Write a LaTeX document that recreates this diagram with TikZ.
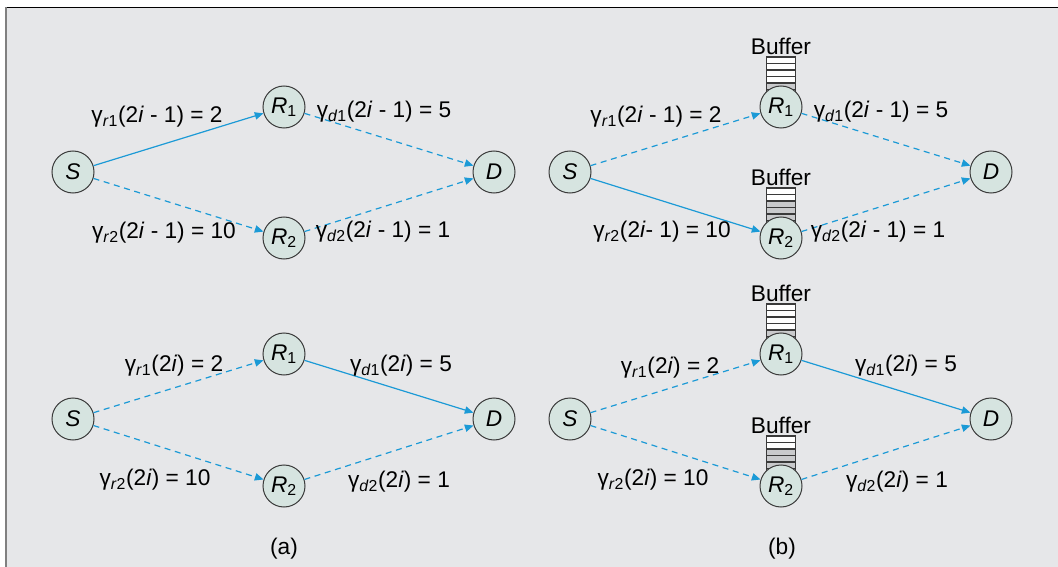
\documentclass[tikz,border=0pt]{standalone}
\usepackage{fontspec}
\setmainfont{Liberation Sans}
\usetikzlibrary{arrows.meta,positioning}

\definecolor{linkblue}{HTML}{1B9AD6}
\definecolor{nodefill}{HTML}{D6E4E0}
\definecolor{edgegray}{HTML}{3A3A3A}
\definecolor{panelgray}{HTML}{E6E7E9}
\definecolor{stripegray}{HTML}{C9CACC}

% channel gain label
\newcommand{\gain}[2]{γ\textsubscript{\textit{#1}#2}}
% queue of six slots, #3 free (white) slots on top
\newcommand{\drawqueue}[4]{%
  \foreach \k in {1,...,6}{%
    \ifnum\k>#3\relax\def\stripe{stripegray}\else\def\stripe{white}\fi
    \filldraw[fill=\stripe, draw=edgegray, line width=0.8pt]
      (#1-14.5,#2-56.5+6.5*\k) rectangle ++(29,6.5);
  }%
  \node[anchor=south, inner sep=1pt] (#4) at (#1,#2-51) {Buffer};
}

\begin{document}
\begin{tikzpicture}[
    x=0.75pt, y=-0.75pt,
    every node/.style={font=\fontsize{17}{20}\selectfont},
    station/.style={circle, draw=edgegray, fill=nodefill, line width=0.75pt,
        minimum size=31.5pt, inner sep=0pt},
    link/.style={draw=linkblue, line width=0.9pt, -{Triangle[length=6.5pt,width=5.5pt]}},
    idle/.style={link, dash pattern=on 4.5pt off 3.5pt},
    weight/.style={inner sep=0pt}
]

\useasboundingbox (0,0) rectangle (1058,567);
\fill[white] (0,0) rectangle (1058,567);
\fill[panelgray] (6,7.5) rectangle (1058,567);
\draw[black, line width=0.8pt] (6,7.5) -- (1058,7.5);
\draw[gray, line width=1pt] (6,7.5) -- (6,567);

% buffers in (b)
\drawqueue{781}{107}{4}{bufa}
\drawqueue{781}{238}{2}{bufb}
\drawqueue{781}{354}{4}{bufc}
\drawqueue{781}{486}{2}{bufd}

% (a) slot 2i-1
\node[station] (sa) at (73,172) {\textit{S}};
\node[station] (ra1) at (284,107) {\textit{R}\textsubscript{1}};
\node[station] (ra2) at (284,238) {\textit{R}\textsubscript{2}};
\node[station] (da) at (494,172) {\textit{D}};
\draw[link] (sa) -- (ra1);
\draw[idle] (sa) -- (ra2);
\draw[idle] (ra1) -- (da);
\draw[idle] (ra2) -- (da);
\node[weight] (wa1) at (157,117) {\gain{r}{1}(2\textit{i} - 1) = 2};
\node[weight] (wa2) at (164,233) {\gain{r}{2}(2\textit{i} - 1) = 10};
\node[weight] (wa3) at (384,112) {\gain{d}{1}(2\textit{i} - 1) = 5};
\node[weight] (wa4) at (383,232) {\gain{d}{2}(2\textit{i} - 1) = 1};

% (a) slot 2i
\node[station] (sb) at (73,419) {\textit{S}};
\node[station] (rb1) at (284,354) {\textit{R}\textsubscript{1}};
\node[station] (rb2) at (284,486) {\textit{R}\textsubscript{2}};
\node[station] (db) at (494,419) {\textit{D}};
\draw[idle] (sb) -- (rb1);
\draw[idle] (sb) -- (rb2);
\draw[link] (rb1) -- (db);
\draw[idle] (rb2) -- (db);
\node[weight] (wb1) at (174,366) {\gain{r}{1}(2\textit{i}) = 2};
\node[weight] (wb2) at (155,480) {\gain{r}{2}(2\textit{i}) = 10};
\node[weight] (wb3) at (401,366) {\gain{d}{1}(2\textit{i}) = 5};
\node[weight] (wb4) at (399,482) {\gain{d}{2}(2\textit{i}) = 1};

% (b) slot 2i-1
\node[station] (sc) at (570,172) {\textit{S}};
\node[station] (rc1) at (781,107) {\textit{R}\textsubscript{1}};
\node[station] (rc2) at (781,238) {\textit{R}\textsubscript{2}};
\node[station] (dc) at (991,172) {\textit{D}};
\draw[idle] (sc) -- (rc1);
\draw[link] (sc) -- (rc2);
\draw[idle] (rc1) -- (dc);
\draw[idle] (rc2) -- (dc);
\node[weight] (wc1) at (656,117) {\gain{r}{1}(2\textit{i} - 1) = 2};
\node[weight] (wc2) at (662,232) {\gain{r}{2}(2\textit{i}- 1) = 10};
\node[weight] (wc3) at (881,112) {\gain{d}{1}(2\textit{i} - 1) = 5};
\node[weight] (wc4) at (878,232) {\gain{d}{2}(2\textit{i} - 1) = 1};

% (b) slot 2i
\node[station] (sd) at (570,419) {\textit{S}};
\node[station] (rd1) at (781,354) {\textit{R}\textsubscript{1}};
\node[station] (rd2) at (781,486) {\textit{R}\textsubscript{2}};
\node[station] (dd) at (991,419) {\textit{D}};
\draw[idle] (sd) -- (rd1);
\draw[idle] (sd) -- (rd2);
\draw[link] (rd1) -- (dd);
\draw[idle] (rd2) -- (dd);
\node[weight] (wd1) at (670,368) {\gain{r}{1}(2\textit{i}) = 2};
\node[weight] (wd2) at (653,480) {\gain{r}{2}(2\textit{i}) = 10};
\node[weight] (wd3) at (906,366) {\gain{d}{1}(2\textit{i}) = 5};
\node[weight] (wd4) at (897,482) {\gain{d}{2}(2\textit{i}) = 1};

\node (capa) at (284,549) {(a)};
\node (capb) at (782,549) {(b)};

\end{tikzpicture}
\end{document}
